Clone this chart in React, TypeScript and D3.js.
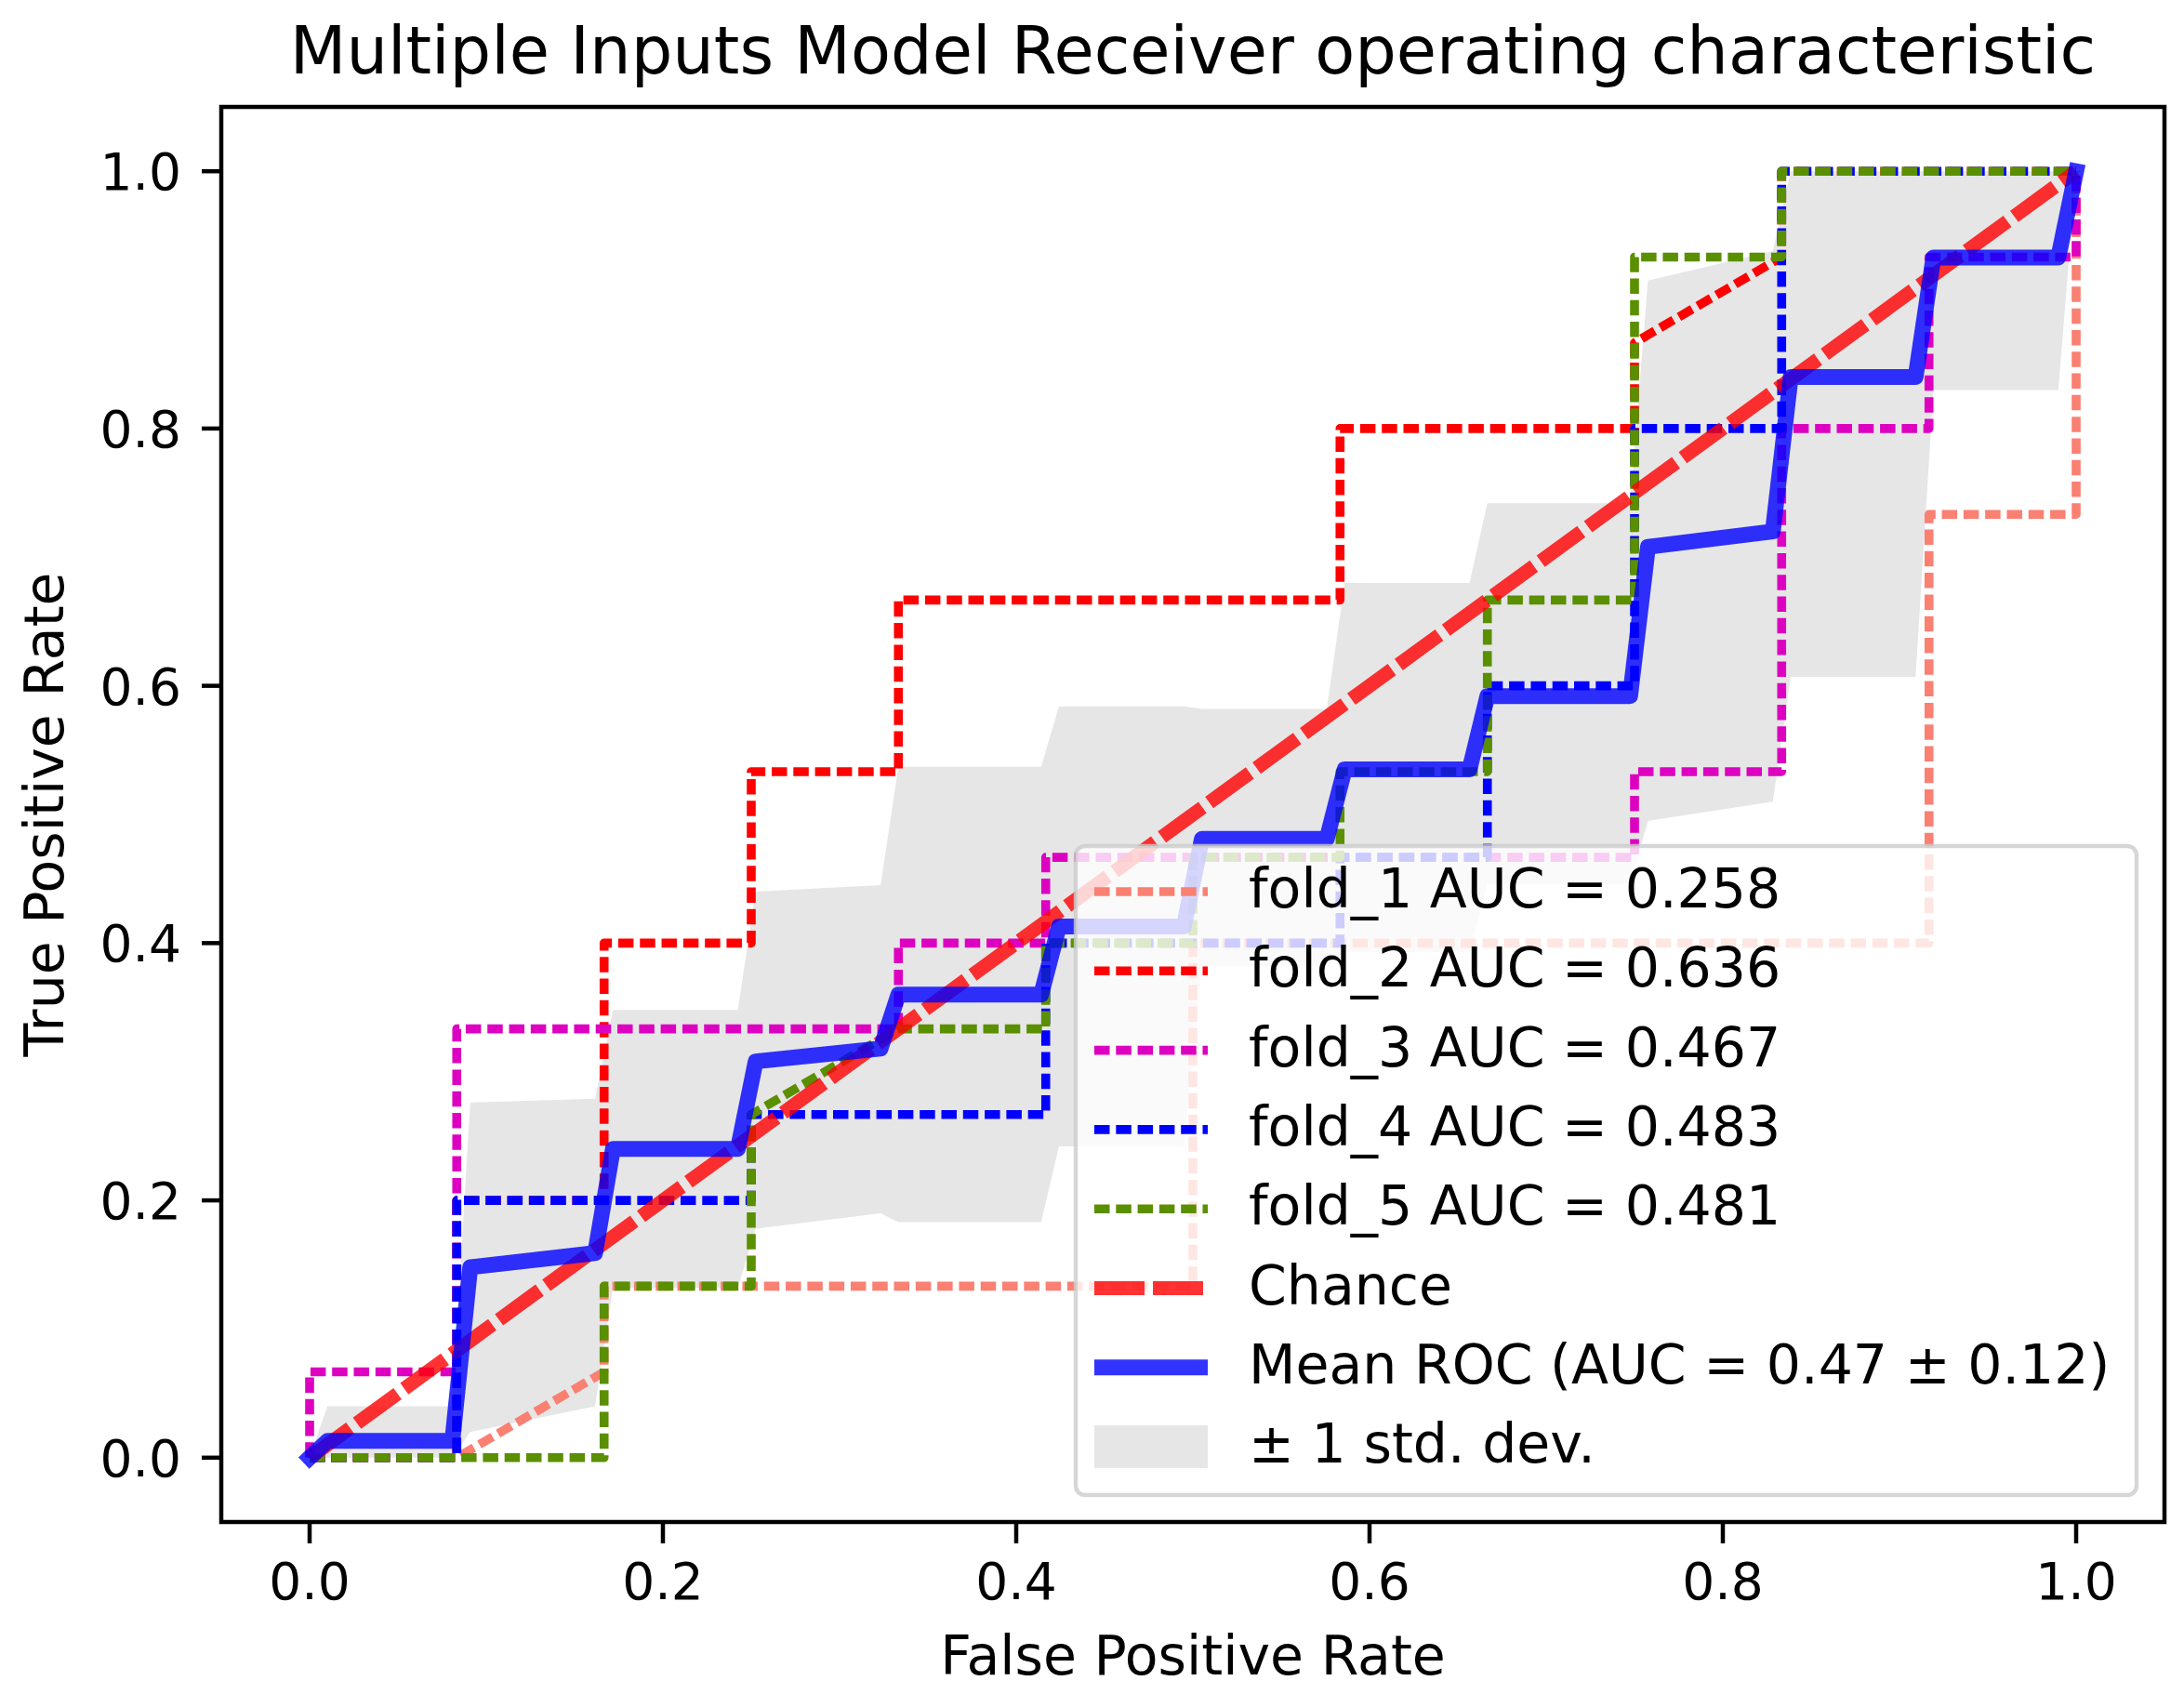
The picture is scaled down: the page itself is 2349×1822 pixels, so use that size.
import React from 'react';
import * as d3 from 'd3';

const W = 2349;
const H = 1822;

const titleText = 'Multiple Inputs Model Receiver operating characteristic';
const xLabel = 'False Positive Rate';
const yLabel = 'True Positive Rate';
const tickValues = [0, 0.2, 0.4, 0.6, 0.8, 1.0];
const tickLabels = ['0.0', '0.2', '0.4', '0.6', '0.8', '1.0'];

// ROC vertices: [fpr, tpr]
const fold1 = [[0, 0], [0.0833, 0], [0.1667, 0.0667], [0.1667, 0.1333], [0.5, 0.1333], [0.5, 0.4], [0.9167, 0.4], [0.9167, 0.7333], [1, 0.7333], [1, 1]];
const fold2 = [[0, 0], [0.0833, 0], [0.0833, 0.2], [0.1667, 0.2], [0.1667, 0.4], [0.25, 0.4], [0.25, 0.5333], [0.3333, 0.5333], [0.3333, 0.6667], [0.5833, 0.6667], [0.5833, 0.8], [0.75, 0.8], [0.75, 0.8667], [0.8333, 0.9333], [0.8333, 1], [1, 1]];
const fold3 = [[0, 0], [0, 0.0667], [0.0833, 0.0667], [0.0833, 0.3333], [0.3333, 0.3333], [0.3333, 0.4], [0.4167, 0.4], [0.4167, 0.4667], [0.75, 0.4667], [0.75, 0.5333], [0.8333, 0.5333], [0.8333, 0.8], [0.9167, 0.8], [0.9167, 0.9333], [1, 0.9333], [1, 1]];
const fold4 = [[0, 0], [0.0833, 0], [0.0833, 0.2], [0.25, 0.2], [0.25, 0.2667], [0.4167, 0.2667], [0.4167, 0.4], [0.5833, 0.4], [0.5833, 0.4667], [0.6667, 0.4667], [0.6667, 0.6], [0.75, 0.6], [0.75, 0.8], [0.8333, 0.8], [0.8333, 1], [1, 1]];
const fold5 = [[0, 0], [0.1667, 0], [0.1667, 0.1333], [0.25, 0.1333], [0.25, 0.2667], [0.3333, 0.3333], [0.4167, 0.3333], [0.4167, 0.4], [0.5, 0.4], [0.5, 0.4667], [0.5833, 0.4667], [0.5833, 0.5333], [0.6667, 0.5333], [0.6667, 0.6667], [0.75, 0.6667], [0.75, 0.9333], [0.8333, 0.9333], [0.8333, 1], [1, 1]];

const foldNames = ['fold_1 AUC = 0.258', 'fold_2 AUC = 0.636', 'fold_3 AUC = 0.467', 'fold_4 AUC = 0.483', 'fold_5 AUC = 0.481'];
const foldColors = ['#fa8072', '#ff0000', '#dc00c0', '#0000ff', '#5a8f00'];

const chance = [[0, 0], [1, 1]];

// Mean ROC vertices
const meanRoc = [[0, 0], [0.0101, 0.013], [0.0808, 0.013], [0.0909, 0.148], [0.1616, 0.159], [0.1717, 0.24], [0.2424, 0.24], [0.2525, 0.308], [0.3232, 0.318], [0.3333, 0.36], [0.4141, 0.36], [0.4242, 0.413], [0.4949, 0.413], [0.5051, 0.481], [0.5758, 0.481], [0.5859, 0.535], [0.6566, 0.535], [0.6667, 0.592], [0.7475, 0.592], [0.7576, 0.708], [0.8283, 0.72], [0.8384, 0.84], [0.9091, 0.84], [0.9192, 0.933], [0.9899, 0.933], [1, 1]];

// +/- 1 std band
const bandFpr = [0, 0.0101, 0.0808, 0.0909, 0.1616, 0.1717, 0.2424, 0.2525, 0.3232, 0.3333, 0.4141, 0.4242, 0.4949, 0.5051, 0.5758, 0.5859, 0.6566, 0.6667, 0.7475, 0.7576, 0.8283, 0.8384, 0.9091, 0.9192, 0.9899, 1];
const bandLower = [0, 0, 0, 0.02, 0.04, 0.132, 0.132, 0.178, 0.19, 0.183, 0.183, 0.242, 0.242, 0.382, 0.382, 0.393, 0.393, 0.446, 0.446, 0.495, 0.51, 0.607, 0.607, 0.83, 0.83, 1];
const bandUpper = [0, 0.04, 0.04, 0.276, 0.279, 0.348, 0.348, 0.44, 0.445, 0.537, 0.537, 0.584, 0.584, 0.582, 0.582, 0.68, 0.68, 0.742, 0.742, 0.915, 0.938, 1, 1, 1, 1, 1];

const legendLabels = [...foldNames, 'Chance', 'Mean ROC (AUC = 0.47 \u00b1 0.12)', '\u00b1 1 std. dev.'];

const FONT = 'DejaVu Sans, Verdana, sans-serif';

export default function App() {
  const L = 238, R = 2328, T = 115, B = 1637;
  const x = d3.scaleLinear().domain([-0.05, 1.05]).range([L, R]);
  const y = d3.scaleLinear().domain([-0.05, 1.05]).range([B, T]);
  const line = d3.line<number[]>().x(d => x(d[0])).y(d => y(d[1]));
  const bandData = bandFpr.map((f, i) => [f, bandLower[i], bandUpper[i]]);
  const area = d3.area<number[]>().x(d => x(d[0])).y0(d => y(d[1])).y1(d => y(d[2]));
  const folds = [fold1, fold2, fold3, fold4, fold5];

  const foldDash = '16.5 6.8';
  const foldW = 9.6;
  const chanceDash = '54 9';
  const chanceW = 15;
  const meanW = 17;

  const legX = 1157, legY = 910, legW = 1141, legH = 698;
  const hx0 = 1177, hx1 = 1299, textX = 1343;
  const base0 = 976, rowStep = 85.3;

  return (
    <svg width={W} height={H} viewBox={`0 0 ${W} ${H}`} style={{ position: 'absolute', left: 0, top: 0, background: '#fff' }} fontFamily={FONT}>
      <rect x={0} y={0} width={W} height={H} fill="#fff" />
      <defs>
        <clipPath id="plotclip"><rect x={L} y={T} width={R - L} height={B - T} /></clipPath>
      </defs>
      <text x={(L + R) / 2} y={79} textAnchor="middle" fontSize={70.3} fill="#000">{titleText}</text>
      <g clipPath="url(#plotclip)">
        <path d={area(bandData) || ''} fill="#808080" fillOpacity={0.2} stroke="none" />
        {folds.map((f, i) => (
          <path key={i} d={line(f) || ''} fill="none" stroke={foldColors[i]} strokeWidth={foldW} strokeDasharray={foldDash} strokeLinejoin="round" strokeLinecap="butt" />
        ))}
        <path d={line(chance) || ''} fill="none" stroke="#ff0000" strokeOpacity={0.8} strokeWidth={chanceW} strokeDasharray={chanceDash} />
        <path d={line(meanRoc) || ''} fill="none" stroke="#0000ff" strokeOpacity={0.8} strokeWidth={meanW} strokeLinejoin="round" strokeLinecap="square" />
      </g>
      {/* axes frame */}
      <rect x={L} y={T} width={R - L} height={B - T} fill="none" stroke="#000" strokeWidth={4.5} />
      {/* x ticks */}
      {tickValues.map((v, i) => (
        <g key={'x' + i}>
          <line x1={x(v)} x2={x(v)} y1={B} y2={B + 23} stroke="#000" strokeWidth={4.5} />
          <text x={x(v)} y={1720} textAnchor="middle" fontSize={55} fill="#000">{tickLabels[i]}</text>
        </g>
      ))}
      {tickValues.map((v, i) => (
        <g key={'y' + i}>
          <line x1={L - 21} x2={L} y1={y(v)} y2={y(v)} stroke="#000" strokeWidth={4.5} />
          <text x={195} y={y(v) + 20} textAnchor="end" fontSize={55} fill="#000">{tickLabels[i]}</text>
        </g>
      ))}
      <text x={(L + R) / 2} y={1801} textAnchor="middle" fontSize={58.5} fill="#000">{xLabel}</text>
      <text transform={`translate(68, ${(T + B) / 2}) rotate(-90)`} textAnchor="middle" fontSize={58.5} fill="#000">{yLabel}</text>
      {/* legend */}
      <rect x={legX} y={legY} width={legW} height={legH} rx={10} ry={10} fill="#fff" fillOpacity={0.8} stroke="#cccccc" strokeOpacity={0.8} strokeWidth={4.4} />
      {legendLabels.map((lab, i) => {
        const by = base0 + i * rowStep;
        const hy = by - 17;
        let handle: React.ReactNode = null;
        if (i < 5) {
          handle = <line x1={hx0} x2={hx1} y1={hy} y2={hy} stroke={foldColors[i]} strokeWidth={foldW} strokeDasharray={foldDash} />;
        } else if (i === 5) {
          handle = <line x1={hx0} x2={hx1} y1={hy} y2={hy} stroke="#ff0000" strokeOpacity={0.8} strokeWidth={chanceW} strokeDasharray={chanceDash} />;
        } else if (i === 6) {
          handle = <line x1={hx0} x2={hx1} y1={hy} y2={hy} stroke="#0000ff" strokeOpacity={0.8} strokeWidth={meanW} />;
        } else {
          handle = <rect x={hx0} y={hy - 23} width={hx1 - hx0} height={46} fill="#808080" fillOpacity={0.2} />;
        }
        return (
          <g key={'leg' + i}>
            {handle}
            <text x={textX} y={by} fontSize={58.5} fill="#000">{lab}</text>
          </g>
        );
      })}
    </svg>
  );
}
